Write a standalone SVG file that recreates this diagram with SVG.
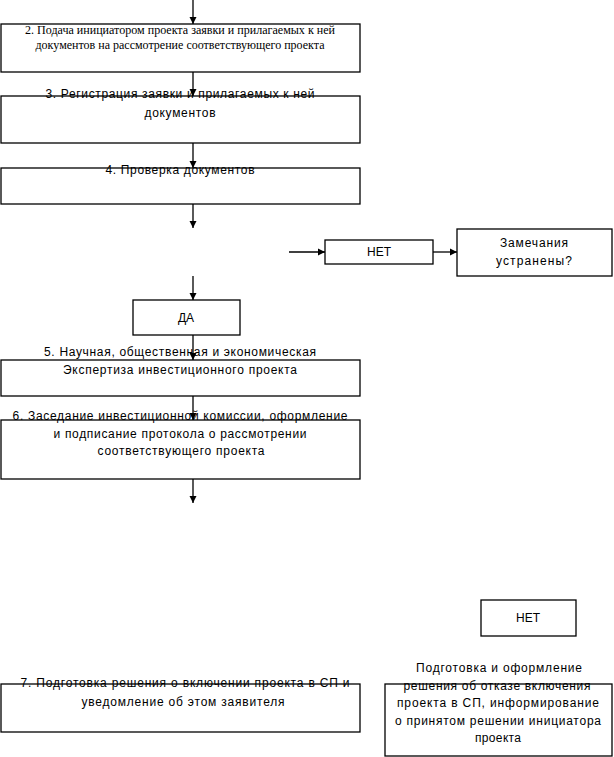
<svg xmlns="http://www.w3.org/2000/svg" width="614" height="757" viewBox="0 0 614 757">
<defs>
<marker id="ah" markerWidth="8" markerHeight="8" refX="7" refY="4" orient="auto" markerUnits="userSpaceOnUse">
<path d="M0,0.5 L7,4 L0,7.5 Z" fill="#000"/>
</marker>
<style>
.b{fill:#fff;stroke:#000;stroke-width:1.3}
.t{font-family:"Liberation Sans",Arial,sans-serif;font-size:12px;fill:#000;text-anchor:middle}
.s{font-family:"Liberation Serif","Times New Roman",serif;font-size:12px;fill:#000;text-anchor:middle}
.c{stroke:#000;stroke-width:1.3;fill:none;marker-end:url(#ah)}
</style>
</defs>
<g id="n2">
<rect class="b" x="1" y="24" width="359" height="48"/>
<text class="s" x="180" y="34" textLength="310" lengthAdjust="spacingAndGlyphs">2. Подача инициатором проекта заявки и прилагаемых к ней</text>
<text class="s" x="180" y="49" textLength="289" lengthAdjust="spacingAndGlyphs">документов на рассмотрение соответствующего проекта</text>
</g>
<g id="n3">
<rect class="b" x="1" y="96" width="359" height="47"/>
<text class="t" x="180" y="98" textLength="269" lengthAdjust="spacing">3. Регистрация заявки и прилагаемых к ней</text>
<text class="t" x="180" y="117" textLength="71" lengthAdjust="spacing">документов</text>
</g>
<g id="n4">
<rect class="b" x="1" y="168" width="359" height="36"/>
<text class="t" x="180" y="174" textLength="149" lengthAdjust="spacing">4. Проверка документов</text>
</g>
<g id="net1">
<rect class="b" x="325" y="240" width="108" height="24"/>
<text class="t" x="379" y="256">НЕТ</text>
</g>
<g id="zam">
<rect class="b" x="457" y="229" width="155" height="47"/>
<text class="t" x="534" y="247" textLength="68" lengthAdjust="spacing">Замечания</text>
<text class="t" x="534" y="265" textLength="76" lengthAdjust="spacing">устранены?</text>
</g>
<g id="da">
<rect class="b" x="133" y="300" width="107" height="35"/>
<text class="t" x="186" y="322">ДА</text>
</g>
<g id="n5">
<rect class="b" x="1" y="360" width="359" height="36"/>
<text class="t" x="180" y="356" textLength="272" lengthAdjust="spacing">5. Научная, общественная и экономическая</text>
<text class="t" x="180" y="374" textLength="234" lengthAdjust="spacing">Экспертиза инвестиционного проекта</text>
</g>
<g id="n6">
<rect class="b" x="1" y="420" width="359" height="59"/>
<text class="t" x="180" y="420" textLength="335" lengthAdjust="spacing">6. Заседание инвестиционной комиссии, оформление</text>
<text class="t" x="180" y="438" textLength="253" lengthAdjust="spacing">и подписание протокола о рассмотрении</text>
<text class="t" x="181" y="455" textLength="167" lengthAdjust="spacing">соответствующего проекта</text>
</g>
<g id="net2">
<rect class="b" x="481" y="600" width="95" height="36"/>
<text class="t" x="528" y="622">НЕТ</text>
</g>
<g id="otkaz">
<rect class="b" x="385" y="684" width="227" height="72"/>
<text class="t" x="499" y="672" textLength="166" lengthAdjust="spacing">Подготовка и оформление</text>
<text class="t" x="497" y="690" textLength="187" lengthAdjust="spacing">решения об отказе включения</text>
<text class="t" x="498" y="707" textLength="202" lengthAdjust="spacing">проекта в СП, информирование</text>
<text class="t" x="498" y="725" textLength="206" lengthAdjust="spacing">о принятом решении инициатора</text>
<text class="t" x="498" y="742" textLength="46" lengthAdjust="spacing">проекта</text>
</g>
<g id="n7">
<rect class="b" x="1" y="684" width="359" height="48"/>
<text class="t" x="185" y="687" textLength="329" lengthAdjust="spacing">7. Подготовка решения о включении проекта в СП  и</text>
<text class="t" x="183" y="706" textLength="203" lengthAdjust="spacing">уведомление об этом заявителя</text>
</g>
<g id="connectors">
<line class="c" x1="193" y1="0" x2="193" y2="24"/>
<line class="c" x1="193" y1="72" x2="193" y2="96"/>
<line class="c" x1="193" y1="143" x2="193" y2="168"/>
<line class="c" x1="193" y1="204" x2="193" y2="228"/>
<line class="c" x1="289" y1="252" x2="325" y2="252"/>
<line class="c" x1="433" y1="252" x2="457" y2="252"/>
<line class="c" x1="193" y1="276" x2="193" y2="300"/>
<line class="c" x1="193" y1="335" x2="193" y2="360"/>
<line class="c" x1="193" y1="396" x2="193" y2="420"/>
<line class="c" x1="193" y1="479" x2="193" y2="503"/>
</g>
</svg>
